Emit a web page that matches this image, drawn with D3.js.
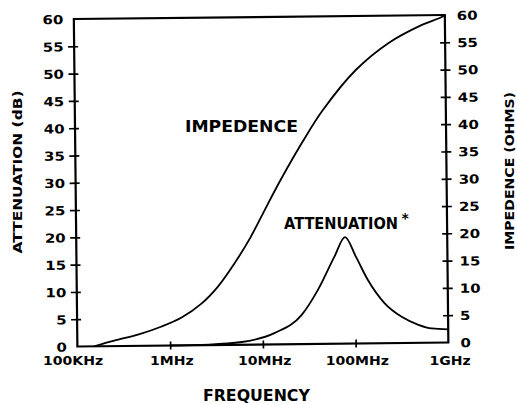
<!DOCTYPE html>
<html><head><meta charset="utf-8">
<script src="https://cdn.jsdelivr.net/npm/d3@7"></script>
<style>
html,body{margin:0;padding:0;background:#fff;}
svg{display:block;}
text{font-family:"DejaVu Sans",sans-serif;font-weight:bold;fill:#000;}
</style></head><body>
<svg id="c" width="517" height="404"></svg>
<script>
// ---- data ----
const freqTicks = [1e5, 1e6, 1e7, 1e8, 1e9];
const freqLabels = ["100KHz", "1MHz", "10MHz", "100MHz", "1GHz"];
const valueTicks = [0, 5, 10, 15, 20, 25, 30, 35, 40, 45, 50, 55, 60];

const impedanceFreq = [1.51e5, 2.5e5, 4.6e5, 8.15e5, 1.34e6, 2.2e6, 3.33e6, 5.0e6, 7.6e6, 1.06e7, 1.61e7, 2.84e7, 4.66e7, 1.08e8, 2.46e8, 5.58e8, 9.16e8, 1e9];
const impedanceOhms = [0, 1.0, 2.1, 3.5, 5.1, 7.6, 10.7, 14.8, 19.7, 24.3, 30.0, 37.1, 42.7, 50.1, 55.0, 58.2, 59.6, 60];

const attenuationFreq = [1e6, 2.62e6, 5.94e6, 1.35e7, 2.63e7, 3.98e7, 6.03e7, 7.91e7, 1.03e8, 1.38e8, 2.08e8, 3.16e8, 4.78e8, 6.64e8, 1e9];
const attenuationDb = [0, 0.1, 0.5, 2.1, 5.3, 9.9, 15.9, 19.5, 15.9, 11.6, 7.3, 4.8, 3.3, 2.6, 2.4];

// ---- layout ----
const plot = {left: 75.6, right: 446.6, top: 17, bottom: 344.5};
const tilt = -0.62;
const cx = (plot.left + plot.right) / 2, cy = (plot.top + plot.bottom) / 2;

const x = d3.scaleLog().domain([1e5, 1e9]).range([plot.left, plot.right]);
const yL = d3.scaleLinear().domain([0, 60]).range([plot.bottom, plot.top]);
const yR = d3.scaleLinear().domain([0, 60]).range([plot.bottom, plot.top]);

const svg = d3.select("#c");
const g = svg.append("g").attr("transform", `rotate(${tilt},${cx},${cy})`);

function stretch(sel, s) {
  sel.each(function () {
    const t = d3.select(this);
    const xv = +t.attr("x") || 0;
    t.attr("x", xv / s).attr("transform", `scale(${s},1)`);
  });
}

// frame
g.append("rect")
  .attr("x", plot.left).attr("y", plot.top)
  .attr("width", plot.right - plot.left).attr("height", plot.bottom - plot.top)
  .attr("fill", "none").attr("stroke", "#000").attr("stroke-width", 2.2);

// left axis
const axL = g.append("g").attr("transform", `translate(${plot.left},0)`)
  .call(d3.axisLeft(yL).tickValues(valueTicks).tickSize(0).tickPadding(10.5).tickFormat(d3.format("d")));
axL.select(".domain").remove();
axL.selectAll(".tick line").attr("x1", -6).attr("x2", 4).attr("stroke", "#000").attr("stroke-width", 1.7)
  .attr("display", d => (d === 0 || d === 60) ? "none" : null);
axL.selectAll(".tick text").attr("font-size", 12.5).attr("dy", "0.36em").call(stretch, 1.2);

// right axis
const axR = g.append("g").attr("transform", `translate(${plot.right},0)`)
  .call(d3.axisRight(yR).tickValues(valueTicks).tickSize(0).tickPadding(12).tickFormat(d3.format("d")));
axR.select(".domain").remove();
axR.selectAll(".tick line").attr("x1", -5).attr("x2", 5).attr("stroke", "#000").attr("stroke-width", 1.7)
  .attr("display", d => (d === 0 || d === 60) ? "none" : null);
axR.selectAll(".tick text").attr("font-size", 12.5).attr("dy", "0.36em").call(stretch, 1.2);

// bottom axis ticks
const axB = g.append("g").attr("transform", `translate(0,${plot.bottom})`)
  .call(d3.axisBottom(x).tickValues(freqTicks.slice(1, -1)).tickSize(0).tickFormat(""));
axB.select(".domain").remove();
axB.selectAll(".tick line").attr("y1", -4).attr("y2", 4).attr("stroke", "#000").attr("stroke-width", 1.7);

// bottom tick labels (unrotated)
const axBL = svg.append("g").attr("transform", `translate(0,${plot.bottom})`)
  .call(d3.axisBottom(x).tickValues(freqTicks).tickSize(0).tickFormat((d, i) => freqLabels[i]));
axBL.select(".domain").remove();
axBL.selectAll(".tick text").attr("font-size", 13).attr("y", 21).attr("dy", 0)
  .attr("dx", (d, i) => i === 0 ? -3 : 3)
  .each(function () {
    const t = d3.select(this);
    t.attr("dx", (+t.attr("dx")) / 1.08).attr("transform", "scale(1.08,1)");
  });

// curves
g.append("path")
  .attr("d", d3.line().curve(d3.curveCatmullRom.alpha(0.5))(impedanceFreq.map((f, i) => [x(f), yR(impedanceOhms[i])])))
  .attr("fill", "none").attr("stroke", "#000").attr("stroke-width", 1.8);
g.append("path")
  .attr("d", d3.line().curve(d3.curveMonotoneX)(attenuationFreq.map((f, i) => [x(f), yL(attenuationDb[i])])))
  .attr("fill", "none").attr("stroke", "#000").attr("stroke-width", 1.8);

// labels
function label(txt, tx, ty, size, len, anchor, rot) {
  const t = svg.append("text")
    .attr("transform", `translate(${tx},${ty})` + (rot ? ` rotate(${rot})` : ""))
    .attr("font-size", size).attr("text-anchor", anchor || "start").text(txt);
  if (len) t.attr("textLength", len).attr("lengthAdjust", "spacingAndGlyphs");
  return t;
}
label("IMPEDENCE", 185, 131.5, 15, 113);
label("ATTENUATION", 284, 229.3, 15, 114);
label("*", 401.5, 223, 14);
label("FREQUENCY", 256.4, 401, 15, 107, "middle");
label("ATTENUATION (dB)", 21.7, 172, 12, 163, "middle", -90);
label("IMPEDENCE (OHMS)", 514, 171, 12, 158, "middle", -90);
</script>
</body></html>
